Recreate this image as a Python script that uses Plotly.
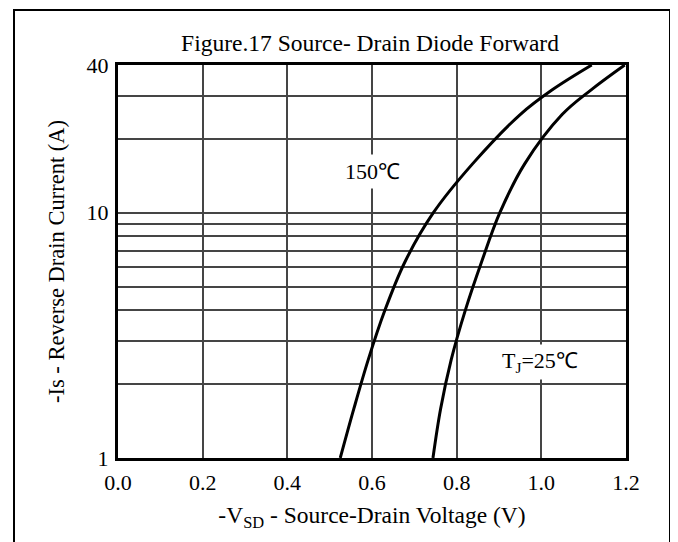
import plotly.graph_objects as go

# ---- data ----
current_150 = [1, 1.585, 2.512, 3.981, 6.310, 10, 15.85, 25.12, 31.62, 40]
voltage_150 = [0.525, 0.557, 0.591, 0.630, 0.678, 0.745, 0.838, 0.950, 1.025, 1.119]

current_25 = [1, 1.585, 2.512, 3.981, 6.310, 10, 15.85, 25.12, 31.62, 40]
voltage_25 = [0.744, 0.762, 0.787, 0.820, 0.859, 0.902, 0.961, 1.049, 1.117, 1.197]

x_ticks = [0.0, 0.2, 0.4, 0.6, 0.8, 1.0, 1.2]
x_tick_labels = ["0.0", "0.2", "0.4", "0.6", "0.8", "1.0", "1.2"]
y_ticks = [1, 10, 40]
y_tick_labels = ["1", "10", "40"]
y_minor_grid = [2, 3, 4, 5, 6, 7, 8, 9, 20, 30]

title_text = "Figure.17 Source- Drain Diode Forward"
x_title = "-V<sub>SD</sub> - Source-Drain Voltage (V)"
y_title = "-Is - Reverse Drain Current (A)"
label_150 = "150℃"
label_25 = "T<sub>J</sub>=25℃"

FONT = "Liberation Serif, Times New Roman, serif"
GRID = "#454545"

# figure geometry (page body has an 8px margin, so figure is 8px smaller)
W, H = 670, 534
L, T, R, B = 110, 57, 52, 84
PW, PH = W - L - R, H - T - B

fig = go.Figure()
fig.add_trace(go.Scatter(x=voltage_150, y=current_150, mode="lines",
                         line=dict(color="black", width=3, shape="spline", smoothing=1.0),
                         showlegend=False, hoverinfo="skip"))
fig.add_trace(go.Scatter(x=voltage_25, y=current_25, mode="lines",
                         line=dict(color="black", width=3, shape="spline", smoothing=1.0),
                         showlegend=False, hoverinfo="skip"))

fig.add_annotation(x=0.601, y=1.166, xref="x", yref="y", text=label_150,
                   showarrow=False, bgcolor="white", borderpad=4,
                   font=dict(family=FONT, size=22, color="black"))
fig.add_annotation(x=0.997, y=0.391, xref="x", yref="y", text=label_25,
                   showarrow=False, bgcolor="white", borderpad=3,
                   font=dict(family=FONT, size=22, color="black"))

# outer frame
fig.add_shape(type="rect", xref="paper", yref="paper",
              x0=(6 - L) / PW, x1=(662 - L) / PW,
              y0=(T + PH - 560) / PH, y1=(T + PH - 2) / PH,
              line=dict(color="black", width=2), layer="below")

fig.update_layout(
    width=W, height=H,
    margin=dict(l=L, r=R, t=T, b=B),
    paper_bgcolor="white", plot_bgcolor="white",
    font=dict(family=FONT, size=22, color="black"),
    title=dict(text=title_text, x=362 / W, xanchor="center",
               y=1 - 35 / H, yanchor="middle",
               font=dict(family=FONT, size=23.5, color="black")),
    xaxis=dict(range=[0, 1.2], tickvals=x_ticks, ticktext=x_tick_labels,
               showgrid=True, gridcolor=GRID, gridwidth=1.8,
               showline=True, linecolor="black", linewidth=3, mirror=True,
               ticks="", ticklabelstandoff=3, zeroline=False,
               tickfont=dict(family=FONT, size=22),
               title=dict(text=x_title, standoff=13,
                          font=dict(family=FONT, size=23.5))),
    yaxis=dict(type="log", range=[0, 1.60206], tickvals=y_ticks, ticktext=y_tick_labels,
               showgrid=True, gridcolor=GRID, gridwidth=1.8,
               minor=dict(tickvals=y_minor_grid, showgrid=True,
                          gridcolor=GRID, gridwidth=1.8, ticks=""),
               showline=True, linecolor="black", linewidth=3, mirror=True,
               ticks="", ticklabelstandoff=2, zeroline=False,
               tickfont=dict(family=FONT, size=22),
               title=dict(text=y_title, standoff=16,
                          font=dict(family=FONT, size=22.5))),
)

fig.write_html("out.html")
